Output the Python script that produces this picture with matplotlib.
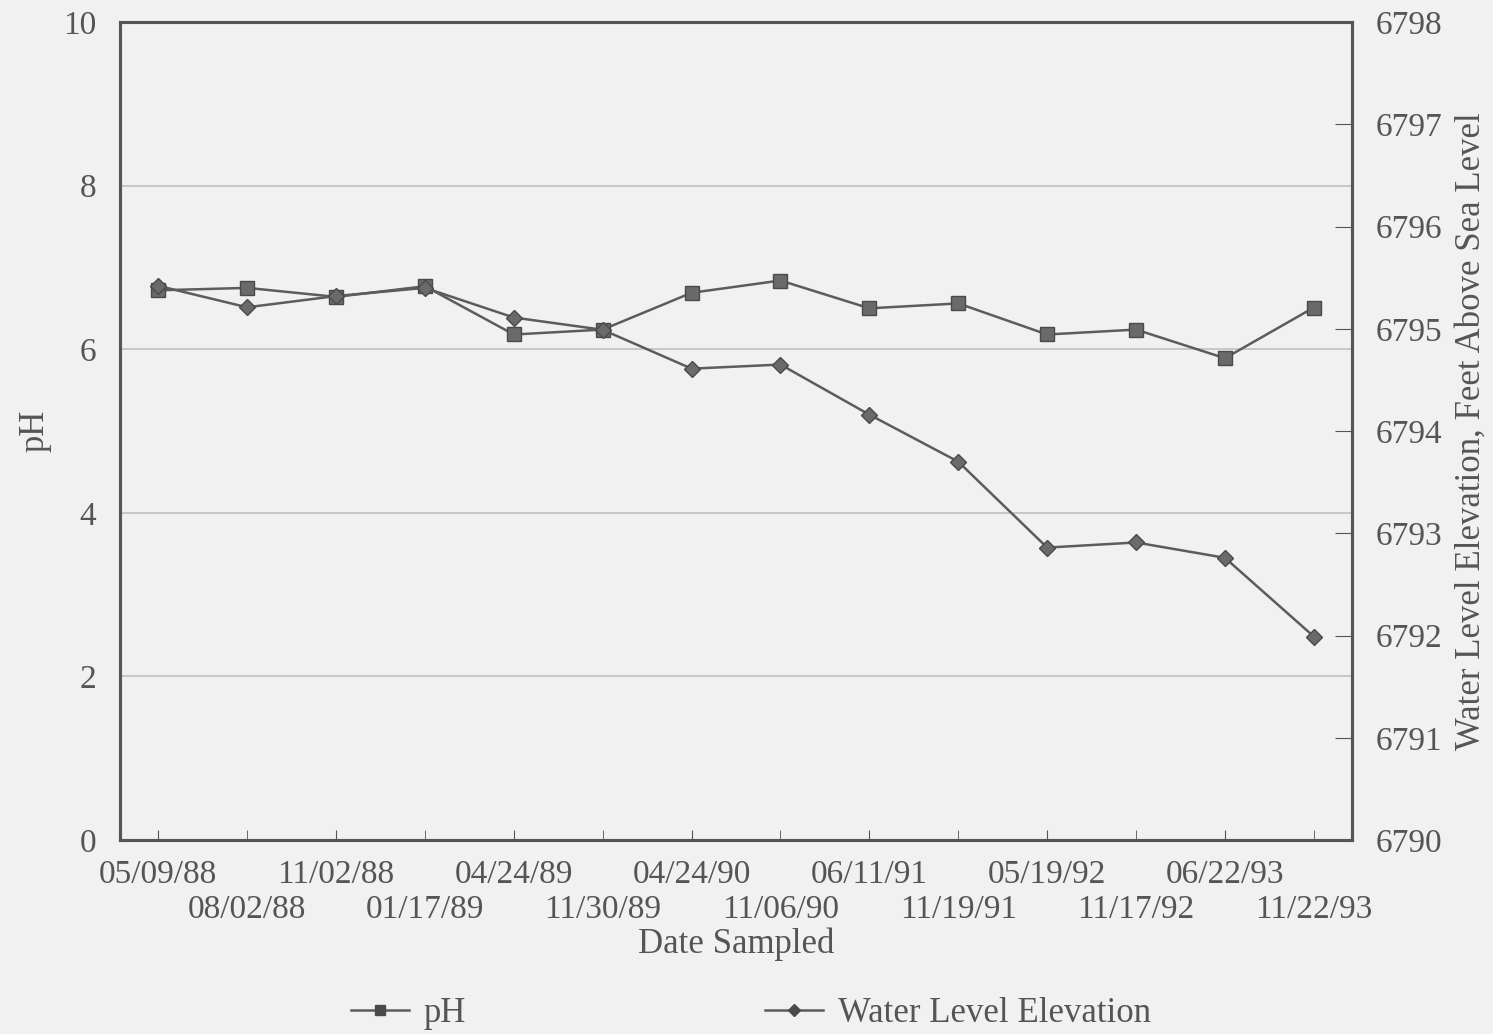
import matplotlib
matplotlib.use("Agg")
import matplotlib.pyplot as plt
from matplotlib.lines import Line2D

dates = ["05/09/88", "08/02/88", "11/02/88", "01/17/89", "04/24/89", "11/30/89",
         "04/24/90", "11/06/90", "06/11/91", "11/19/91", "05/19/92", "11/17/92",
         "06/22/93", "11/22/93"]
ph = [6.72, 6.75, 6.64, 6.77, 6.18, 6.24, 6.69, 6.84, 6.50, 6.56, 6.18, 6.24, 5.89, 6.51]
water_level = [6795.42, 6795.21, 6795.32, 6795.40, 6795.11, 6794.99, 6794.61, 6794.65,
               6794.16, 6793.70, 6792.86, 6792.91, 6792.76, 6791.99]

BG = "#f1f1f1"
INK = "#555555"
LINE = "#5c5c5c"
GRID = "#c4c4c4"
FONT = ["Liberation Serif", "DejaVu Serif"]
plt.rcParams["font.family"] = FONT

fig = plt.figure(figsize=(14.93, 10.34), dpi=100, facecolor=BG)
ax = fig.add_axes([0.0804, 0.1876, 0.8252, 0.7911], facecolor=BG)
ax2 = ax.twinx()

x = list(range(len(dates)))
ax.plot(x, ph, color=LINE, lw=1.8, marker="s", ms=10, mfc="#6a6a6a", mec="#4a4a4a", zorder=3)
ax2.plot(x, water_level, color=LINE, lw=1.8, marker="D", ms=8, mfc="#6a6a6a", mec="#4a4a4a", zorder=3)

ax.set_xlim(-0.43, len(dates) - 1 + 0.43)
ax.set_ylim(0, 10)
ax.set_yticks([0, 2, 4, 6, 8, 10])
ax2.set_ylim(6790, 6798)
ax2.set_yticks(range(6790, 6799))

ax.grid(axis="y", color=GRID, lw=1.3)
ax.set_axisbelow(True)

even = x[0::2]
odd = x[1::2]
ax.set_xticks(even)
ax.set_xticklabels(dates[0::2])
ax.set_xticks(odd, minor=True)
ax.set_xticklabels(dates[1::2], minor=True)
ax.tick_params(axis="x", which="major", direction="in", length=7, color=INK, labelsize=24,
               labelcolor=INK, pad=14)
ax.tick_params(axis="x", which="minor", direction="in", length=7, color=INK, labelsize=24,
               labelcolor=INK, pad=39)
ax.tick_params(axis="y", length=0, labelsize=24, labelcolor=INK, pad=17)
ax2.tick_params(axis="y", direction="in", length=12, color=INK, labelsize=24, labelcolor=INK, pad=17)

for a in (ax, ax2):
    for s in a.spines.values():
        s.set_color(INK)
        s.set_linewidth(2.2)

ax.set_xlabel("Date Sampled", fontsize=25, color=INK, va="center")
ax.xaxis.set_label_coords(0.5, -0.128)
ax.set_ylabel("pH", fontsize=25, color=INK, va="center")
ax.yaxis.set_label_coords(-0.069, 0.5)
ax2.set_ylabel("Water Level Elevation, Feet Above Sea Level", fontsize=25, color=INK,
               rotation=90, va="center")
ax2.yaxis.set_label_coords(1.097, 0.5)

handles = [
    Line2D([], [], color=LINE, lw=1.8, marker="s", ms=7, mfc="#4a4a4a", mec="#4a4a4a"),
    Line2D([], [], color=LINE, lw=1.8, marker="D", ms=6, mfc="#4a4a4a", mec="#4a4a4a"),
]
leg = fig.legend(handles, ["pH", "Water Level Elevation"], loc="center", bbox_to_anchor=(0.503, 0.02),
                 ncol=2, frameon=False, fontsize=25, handlelength=1.67, handletextpad=0.43,
                 columnspacing=8.6, labelcolor=INK)

fig.savefig("out.png", dpi=100, facecolor=BG)
